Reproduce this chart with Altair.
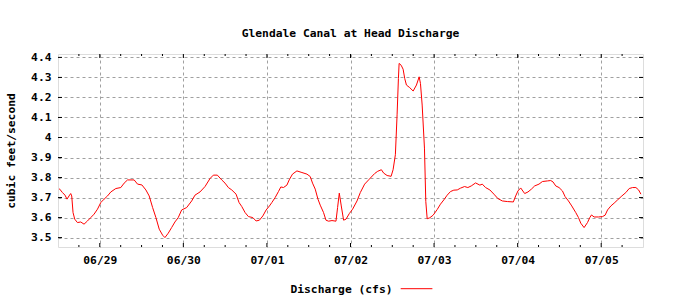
import altair as alt
import pandas as pd

# hours since 06/28 12:00 and discharge (cfs)
hours = [0.3, 0.49, 1.27, 2.01, 2.59, 3.17, 3.65, 3.94, 4.32, 4.81, 5.58, 6.53, 7.48, 8.46, 9.41,
         10.36, 11.34, 12.29, 13.24, 14.22, 15.17, 16.6, 18.04, 18.99, 19.97, 21.87, 22.85, 24.09,
         25.24, 26.19, 27.17, 28.12, 29.07, 30.05, 30.71, 31.66, 32.63, 33.58, 34.53, 35.51, 36.95,
         38.39, 39.34, 40.78, 42.22, 43.66, 44.61, 45.76, 47.02, 47.97, 48.92, 49.9, 51.14, 52.0,
         52.78, 53.73, 54.68, 55.94, 56.89, 57.84, 58.82, 59.77, 60.72, 61.41, 62.36, 63.31, 64.0,
         64.75, 65.73, 66.39, 67.34, 68.61, 70.05, 71.49, 72.43, 73.1, 73.87, 74.65, 75.31, 76.26,
         76.95, 77.7, 78.68, 79.83, 80.29, 80.78, 81.35, 82.02, 82.71, 83.66, 84.61, 85.87, 86.82,
         88.06, 89.41, 90.94, 91.8, 92.87, 93.53, 94.51, 95.66, 96.23, 96.89, 97.38, 97.76, 97.96,
         98.54, 99.11, 99.57, 100.06, 101.01, 101.99, 102.94, 103.72, 104.09, 104.58, 105.24,
         105.62, 106.02, 106.77, 107.74, 108.89, 109.84, 110.79, 111.77, 112.72, 113.67, 114.65,
         115.6, 116.75, 117.7, 118.68, 119.92, 121.15, 121.85, 122.79, 124.03, 125.18, 126.33,
         127.6, 129.04, 130.77, 131.43, 132.09, 132.87, 134.02, 134.97, 135.95, 136.89, 138.13,
         139.11, 140.55, 141.5, 142.16, 142.94, 143.89, 144.87, 145.62, 146.59, 147.54, 148.69,
         149.47, 150.13, 151.08, 152.06, 152.72, 153.21, 153.96, 155.23, 156.38, 157.12, 157.82,
         158.77, 159.71, 160.69, 161.93, 163.08, 164.03, 165.01, 165.96, 166.74, 167.4]
cfs = [3.745, 3.742, 3.725, 3.712, 3.692, 3.708, 3.72, 3.708, 3.625, 3.592, 3.575, 3.578, 3.567,
       3.583, 3.6, 3.617, 3.642, 3.675, 3.692, 3.708, 3.728, 3.745, 3.75, 3.772, 3.788, 3.788,
       3.767, 3.763, 3.738, 3.708, 3.65, 3.6, 3.542, 3.512, 3.5, 3.522, 3.55, 3.578, 3.6, 3.638,
       3.65, 3.683, 3.712, 3.728, 3.755, 3.795, 3.812, 3.812, 3.788, 3.772, 3.75, 3.738, 3.717,
       3.675, 3.655, 3.625, 3.605, 3.6, 3.583, 3.587, 3.608, 3.638, 3.658, 3.675, 3.7, 3.73,
       3.753, 3.75, 3.762, 3.788, 3.817, 3.833, 3.825, 3.817, 3.805, 3.772, 3.742, 3.692, 3.662,
       3.625, 3.587, 3.582, 3.585, 3.582, 3.65, 3.722, 3.658, 3.587, 3.592, 3.62, 3.642, 3.683,
       3.725, 3.767, 3.792, 3.82, 3.831, 3.839, 3.822, 3.81, 3.806, 3.839, 3.914, 4.113, 4.295,
       4.37, 4.361, 4.341, 4.295, 4.262, 4.249, 4.232, 4.262, 4.303, 4.27, 4.162, 3.947, 3.681,
       3.594, 3.599, 3.612, 3.64, 3.667, 3.688, 3.712, 3.73, 3.737, 3.738, 3.747, 3.755, 3.75,
       3.758, 3.773, 3.762, 3.767, 3.75, 3.738, 3.717, 3.695, 3.683, 3.68, 3.678, 3.708, 3.733,
       3.748, 3.72, 3.728, 3.742, 3.758, 3.767, 3.78, 3.783, 3.785, 3.778, 3.758, 3.75, 3.733,
       3.705, 3.683, 3.658, 3.625, 3.6, 3.572, 3.55, 3.575, 3.6, 3.613, 3.603, 3.603, 3.605,
       3.612, 3.638, 3.658, 3.672, 3.688, 3.708, 3.725, 3.745, 3.75, 3.75, 3.738, 3.717]

y_tick_values = [3.5, 3.6, 3.7, 3.8, 3.9, 4.0, 4.1, 4.2, 4.3, 4.4]
day_ticks = ["2024-06-29", "2024-06-30", "2024-07-01", "2024-07-02", "2024-07-03",
             "2024-07-04", "2024-07-05"]

title_text = "Glendale Canal at Head Discharge"
y_title = "cubic feet/second"
legend_label = "Discharge (cfs)"

FONT = "DejaVu Sans Mono"
FS = 11.3
W, H = 585, 193

start = pd.Timestamp("2024-06-28 12:00")
df = pd.DataFrame({"time": start + pd.to_timedelta(hours, unit="h"), "cfs": cfs})

major = pd.to_datetime(day_ticks)
six_h = pd.date_range("2024-06-28 18:00", "2024-07-05 06:00", freq="6h")
minor = [t for t in six_h if t.hour != 0]
df_major = pd.DataFrame({"time": major})
df_minor = pd.DataFrame({"time": minor})
df_y = pd.DataFrame({"cfs": y_tick_values})

x_scale = alt.Scale(domain=[alt.DateTime(year=2024, month=6, date=28, hours=12),
                            alt.DateTime(year=2024, month=7, date=5, hours=12)])
y_scale = alt.Scale(domain=[3.453, 4.417], zero=False, nice=False)

x_axis = alt.Axis(values=[alt.DateTime(year=2024, month=int(d[5:7]), date=int(d[8:10]))
                          for d in day_ticks],
                  format="%m/%d", title=None, ticks=False, domain=False,
                  grid=True, gridDash=[3, 3], gridColor="#a0a0a0", gridWidth=1,
                  labelFont=FONT, labelFontSize=FS, labelFontWeight="bold", labelColor="black",
                  labelPadding=7)
y_axis = alt.Axis(values=y_tick_values, format=".1~f", title=y_title, ticks=False, domain=False,
                  grid=True, gridDash=[3, 3], gridColor="#a0a0a0", gridWidth=1,
                  labelFont=FONT, labelFontSize=FS, labelFontWeight="bold", labelColor="black",
                  labelPadding=7, titleFont=FONT, titleFontSize=FS, titleFontWeight="bold",
                  titleColor="black", titleX=-47, titleY=H / 2, titleAngle=-90,
                  titleAlign="center", titleBaseline="middle")

X = alt.X("time:T", scale=x_scale, axis=x_axis)
Y = alt.Y("cfs:Q", scale=y_scale, axis=y_axis)

line = alt.Chart(df).mark_line(color="#ff0000", strokeWidth=1, clip=True).encode(x=X, y=Y)

def xticks(data, length):
    bottom = alt.Chart(data).mark_rule(color="black", strokeWidth=1).encode(
        x=X, y=alt.value(H), y2=alt.value(H - length))
    top = alt.Chart(data).mark_rule(color="black", strokeWidth=1).encode(
        x=X, y=alt.value(0), y2=alt.value(length))
    return [bottom, top]

yl = alt.Chart(df_y).mark_rule(color="black", strokeWidth=1).encode(
    y=Y, x=alt.value(0), x2=alt.value(4))
yr = alt.Chart(df_y).mark_rule(color="black", strokeWidth=1).encode(
    y=Y, x=alt.value(W - 4), x2=alt.value(W))

leg_df = pd.DataFrame({"label": [legend_label]})
leg_text = alt.Chart(leg_df).mark_text(
    font=FONT, fontSize=FS, fontWeight="bold", color="black", align="right",
    baseline="alphabetic").encode(text="label:N", x=alt.value(334.5), y=alt.value(238.5))
leg_line = alt.Chart(leg_df).mark_rule(color="#ff0000", strokeWidth=1).encode(
    x=alt.value(342.7), x2=alt.value(374.4), y=alt.value(234.7))

chart = alt.layer(
    line, *xticks(df_major, 4), *xticks(df_minor, 2), yl, yr, leg_text, leg_line
).properties(
    width=W, height=H,
    title=alt.TitleParams(title_text, font=FONT, fontSize=FS, fontWeight="bold", color="black",
                          anchor="middle", baseline="alphabetic", offset=3, frame="group"),
    autosize=alt.AutoSizeParams(type="none"),
    padding={"left": 58, "top": 54, "right": 57, "bottom": 53},
).configure_view(stroke="black", strokeWidth=1).configure(background="white")

chart.save("out.html", embed_options={"renderer": "svg", "actions": False})
